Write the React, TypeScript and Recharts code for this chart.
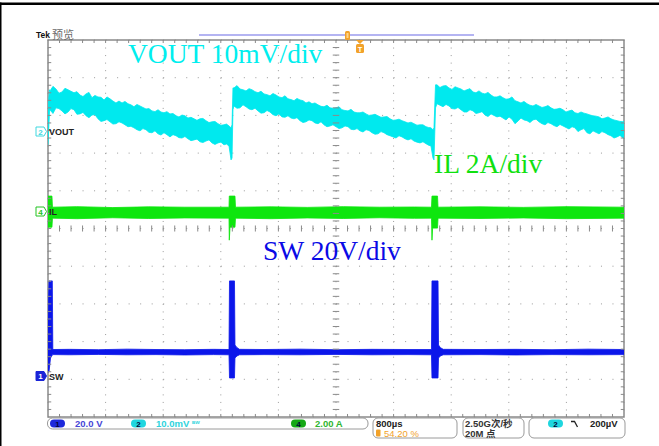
import React from 'react';
import {
  ComposedChart,
  XAxis,
  YAxis,
  CartesianGrid,
  Area,
  ReferenceLine,
  ReferenceArea,
} from 'recharts';

// Horizontal: 800 µs/div, 10 divisions on screen
const timeTicks = [0, 800, 1600, 2400, 3200, 4000, 4800, 5600, 6400, 7200, 8000];
// Graticule rows (divisions from bottom)
const divTicks = [0, 1, 2, 3, 4, 5, 6, 7, 8, 9, 10];

// Channel scale (units per division) and ground-marker position (divisions from bottom)
const CH1_SW = { perDiv: 20, pos: 1.09 }; // V
const CH2_VOUT = { perDiv: 10, pos: 7.59 }; // mV
const CH4_IL = { perDiv: 2, pos: 5.46 }; // A

// Trace envelopes: [time µs, min, max]
// CH2 output ripple, mV (AC view)
const voutEnvelope: [number, number, number][] = [
  [0, -3.7, 6.1], [21, 5.0, 10.9], [28, 5.6, 10.6], [69, 4.6, 11.8], [111, 6.1, 11.1],
  [152, 5.9, 10.0], [194, 5.3, 10.3], [236, 4.5, 11.3], [278, 5.0, 10.9], [319, 5.9, 10.5],
  [361, 5.6, 10.1], [402, 4.4, 10.4], [444, 4.5, 9.5], [486, 4.9, 9.1], [528, 4.0, 9.8],
  [569, 3.5, 10.2], [611, 4.2, 8.8], [652, 4.3, 9.4], [694, 3.2, 9.0], [736, 2.5, 8.9],
  [778, 2.7, 8.2], [819, 3.0, 9.0], [861, 2.4, 8.5], [902, 1.8, 7.9], [944, 1.9, 7.4],
  [986, 2.4, 7.9], [1028, 2.1, 7.4], [1069, 1.6, 7.8], [1111, 1.1, 7.2], [1152, 1.2, 6.9],
  [1194, 0.8, 6.4], [1236, 0.3, 7.0], [1278, 0.0, 6.6], [1319, 0.6, 6.2], [1361, 0.3, 5.8],
  [1402, -0.4, 5.9], [1444, -0.5, 5.3], [1486, 0.0, 5.1], [1528, -0.8, 5.6], [1569, -1.1, 5.0],
  [1611, -0.5, 4.8], [1652, -1.0, 5.1], [1694, -1.6, 4.5], [1736, -1.0, 4.6], [1778, -1.3, 4.0],
  [1819, -1.8, 3.7], [1861, -1.9, 4.2], [1902, -1.5, 4.0], [1944, -2.1, 3.4], [1986, -2.6, 3.6],
  [2028, -2.4, 3.2], [2069, -2.2, 2.8], [2111, -2.9, 3.2], [2152, -3.1, 3.3], [2194, -2.7, 2.7],
  [2236, -2.4, 2.2], [2278, -3.2, 2.4], [2319, -3.6, 2.5], [2361, -3.2, 1.9], [2402, -3.0, 1.5],
  [2444, -3.7, 1.6], [2479, -3.5, 1.8], [2514, -4.0, 1.3], [2542, -7.7, 0.8], [2556, -7.2, 1.6],
  [2569, 5.6, 11.4],
  [2583, 6.6, 11.4], [2625, 6.0, 12.0], [2667, 6.1, 11.1], [2708, 6.9, 10.9], [2750, 6.4, 10.6],
  [2792, 5.8, 11.2], [2833, 5.6, 10.9], [2875, 6.0, 10.4], [2917, 5.3, 10.1], [2958, 4.7, 10.5],
  [3000, 4.8, 9.8], [3042, 5.4, 9.6], [3083, 5.0, 9.3], [3125, 4.3, 9.9], [3167, 4.0, 9.5],
  [3208, 4.5, 9.0], [3250, 3.7, 8.8], [3292, 3.6, 9.3], [3333, 4.0, 8.5], [3375, 3.4, 8.3],
  [3417, 3.2, 8.0], [3458, 3.5, 8.6], [3500, 2.7, 8.2], [3542, 2.2, 8.0], [3583, 2.4, 7.4],
  [3625, 2.9, 7.7], [3667, 2.7, 7.2], [3708, 2.1, 7.4], [3750, 1.9, 6.9], [3792, 2.4, 6.5],
  [3833, 1.6, 6.4], [3875, 1.1, 6.8], [3917, 1.3, 6.1], [3958, 1.6, 6.0], [4000, 1.1, 6.1],
  [4042, 0.6, 6.4], [4083, 0.8, 5.6], [4125, 1.3, 5.4], [4167, 1.1, 5.3], [4208, 0.4, 5.7],
  [4250, 0.3, 5.0], [4292, 0.6, 4.8], [4333, 0.0, 4.8], [4375, -0.3, 5.0], [4417, 0.3, 4.5],
  [4458, 0.1, 4.1], [4500, -0.5, 4.2], [4542, -0.9, 4.4], [4583, -0.8, 4.0], [4625, -0.2, 3.6],
  [4667, -0.5, 3.7], [4708, -1.0, 3.8], [4750, -1.3, 3.2], [4792, -1.6, 2.8], [4833, -1.9, 2.9],
  [4875, -1.3, 3.1], [4917, -1.6, 2.7], [4958, -2.1, 2.4], [5000, -2.4, 2.1], [5042, -2.1, 2.3],
  [5083, -2.7, 1.9], [5125, -3.0, 1.5], [5167, -3.2, 1.6], [5208, -2.9, 1.6], [5250, -3.4, 1.1],
  [5285, -3.8, 0.9], [5319, -4.0, 0.8], [5347, -7.2, 0.3], [5361, -7.7, 0.8], [5382, 6.1, 12.2],
  [5403, 7.2, 12.2], [5444, 6.8, 11.5], [5486, 6.4, 11.9], [5528, 7.0, 12.0], [5569, 6.6, 11.4],
  [5611, 5.9, 11.0], [5653, 5.8, 11.7], [5694, 6.2, 11.4], [5736, 5.6, 11.1], [5778, 5.0, 10.6],
  [5819, 5.0, 10.9], [5861, 5.6, 11.2], [5903, 5.3, 10.3], [5944, 4.6, 10.1], [5986, 4.8, 10.6],
  [6028, 5.1, 10.0], [6069, 4.2, 9.8], [6111, 3.8, 10.2], [6153, 4.5, 9.5], [6194, 4.1, 9.0],
  [6236, 3.7, 9.0], [6278, 3.9, 9.3], [6319, 3.4, 8.8], [6361, 2.9, 8.4], [6403, 3.7, 8.5],
  [6444, 3.1, 9.0], [6486, 1.9, 8.0], [6528, 2.6, 7.7], [6569, 3.4, 7.4], [6611, 2.9, 7.8],
  [6653, 2.7, 7.2], [6694, 2.2, 6.8], [6736, 2.9, 6.6], [6778, 3.1, 7.0], [6819, 2.4, 6.6],
  [6861, 1.9, 6.2], [6903, 1.6, 6.4], [6944, 2.2, 6.7], [6986, 1.9, 6.1], [7028, 1.4, 5.7],
  [7069, 1.1, 5.8], [7111, 1.7, 6.0], [7153, 1.3, 5.6], [7194, 0.9, 5.0], [7236, 0.5, 5.3],
  [7278, 1.1, 5.5], [7319, 0.8, 4.8], [7361, -0.2, 4.6], [7403, 0.3, 5.0], [7444, 0.6, 4.7],
  [7486, -0.5, 4.5], [7528, -0.8, 4.2], [7569, 0.0, 4.0], [7611, -0.4, 3.9], [7653, -0.8, 3.7],
  [7694, -0.2, 3.2], [7736, -0.5, 3.4], [7778, -1.0, 3.7], [7819, -1.3, 3.2], [7861, -1.9, 2.9],
  [7903, -1.6, 2.7], [7944, -1.2, 2.5], [7986, -1.9, 2.4], [8000, -2.0, 2.6],
];

// CH4 inductor current, A
const ilEnvelope: [number, number, number][] = [
  [0, -0.85, 0.8], [55, -0.85, 0.8], [62, -0.37, 0.21],
  [400, -0.4, 0.24], [900, -0.35, 0.19], [1400, -0.39, 0.23], [1900, -0.36, 0.21],
  [2514, -0.37, 0.21], [2518, -1.54, 0.8], [2528, -0.85, 0.8], [2597, -0.85, 0.8],
  [2604, -0.37, 0.21],
  [3100, -0.4, 0.23], [3600, -0.36, 0.2], [4100, -0.39, 0.24], [4600, -0.35, 0.21],
  [5090, -0.38, 0.22],
  [5326, -0.37, 0.21], [5333, -1.54, 0.8], [5342, -0.9, 0.8], [5410, -0.9, 0.8],
  [5417, -0.37, 0.21],
  [6000, -0.39, 0.23], [6600, -0.36, 0.2], [7200, -0.4, 0.24], [8000, -0.37, 0.21],
];

// CH1 switch node, V
const swEnvelope: [number, number, number][] = [
  [0, 2.1, 30.0], [14, 2.1, 50.4], [35, 9.5, 50.4], [60, 11.1, 50.4], [67, 11.3, 14.0],
  [300, 11.2, 14.1], [700, 11.4, 13.9], [1100, 11.2, 14.2], [1500, 11.3, 14.0],
  [1900, 11.1, 13.9], [2300, 11.3, 14.1],
  [2514, 11.2, 14.0], [2521, -1.1, 50.4], [2590, -1.1, 50.4], [2597, 9.5, 16.4],
  [2625, 10.6, 15.0], [2660, 11.2, 14.1],
  [3000, 11.3, 14.0], [3500, 11.2, 14.2], [4000, 11.4, 13.9], [4500, 11.2, 14.1],
  [5000, 11.3, 14.0],
  [5326, 11.2, 14.0], [5333, -1.1, 50.4], [5417, -1.1, 50.4], [5424, 9.5, 16.4],
  [5450, 10.6, 15.0], [5490, 11.2, 14.1],
  [6000, 11.3, 14.0], [6500, 11.1, 14.1], [7000, 11.3, 13.9], [7500, 11.2, 14.2],
  [8000, 11.3, 14.0],
];

const toRows = (env: [number, number, number][]) =>
  env.map(([t, lo, hi]) => ({ t, band: [lo, hi] }));

const domainOf = (ch: { perDiv: number; pos: number }): [number, number] => [
  -ch.pos * ch.perDiv,
  (10 - ch.pos) * ch.perDiv,
];

const COLORS = {
  sw: '#0b16ea',
  vout: '#00e9ee',
  il: '#0ee60e',
  grid: '#9a9a9a',
  frame: '#8a8a8a',
};

// Graticule minor marks: 5 per division
const minorT = Array.from({ length: 49 }, (_, i) => (i + 1) * 160);
const minorD = Array.from({ length: 49 }, (_, i) => (i + 1) * 0.2);
const TL = 45; // mark length along time (≈3px)
const DL = 0.08; // mark length along divisions (≈3px)

const graticuleMarks = [
  ...minorT.map((t) => [{ x: t, y: 10 }, { x: t, y: 10 - DL }]),
  ...minorT.map((t) => [{ x: t, y: 0 }, { x: t, y: DL }]),
  ...minorT.map((t) => [{ x: t, y: 5 - DL }, { x: t, y: 5 + DL }]),
  ...minorD.map((d) => [{ x: 0, y: d }, { x: TL, y: d }]),
  ...minorD.map((d) => [{ x: 8000 - TL, y: d }, { x: 8000, y: d }]),
  ...minorD.map((d) => [{ x: 4000 - TL, y: d }, { x: 4000 + TL, y: d }]),
];

const sans = 'Liberation Sans, Arial, sans-serif';
const sansCjk = 'Liberation Sans, Noto Sans CJK SC, sans-serif';
const serif = 'Liberation Serif, Times New Roman, serif';
const cjk = 'Noto Sans CJK SC, sans-serif';

function ChannelTag({ x, y, n, color, filled, name }: any) {
  return (
    <g>
      <path
        d={`M${x} ${y - 4.5} h8 l2.5 4.5 l-2.5 4.5 h-8 z`}
        fill={filled ? color : '#ffffff'}
        stroke={color}
        strokeWidth={1}
      />
      <text x={x + 4.5} y={y + 3} fontSize={8} fontWeight="bold" fontFamily={sans}
        textAnchor="middle" fill={filled ? '#ffffff' : color}>{n}</text>
      <text x={x + 13} y={y + 3.5} fontSize={9} fontWeight="bold" fontFamily={sans}
        fill="#222">{name}</text>
    </g>
  );
}

function Pill({ x, y, n, color }: any) {
  return (
    <g>
      <rect x={x} y={y} width={15} height={8} rx={4} fill={color} />
      <text x={x + 7.5} y={y + 7} fontSize={8} fontWeight="bold" fontFamily={sans}
        textAnchor="middle" fill="#06063a">{n}</text>
    </g>
  );
}

function Overlay() {
  return (
    <svg width={659} height={446} style={{ position: 'absolute', left: 0, top: 0, pointerEvents: 'none' }}>
      {/* outer frame */}
      <rect x={0} y={2.5} width={659} height={2.5} fill="#000" />
      <rect x={0} y={2.5} width={1.5} height={444} fill="#000" />

      {/* header */}
      <text x={36} y={38} fontSize={8.5} fontWeight="bold" fontFamily={sans} fill="#111">Tek</text>
      <text x={52} y={38.5} fontSize={11} fontFamily={cjk} fill="#6a6a6a">预览</text>
      <rect x={199} y={34} width={275} height={2} fill="#b4b4f2" />
      <rect x={345} y={31} width={5} height={9} rx={1.5} fill="#f2a22a" />
      <rect x={346.5} y={33} width={2} height={5} fill="#ffd58a" />
      <path d="M356 40 h8 l-4 4 z" fill="#f2a22a" />
      <rect x={356} y={44} width={8} height={9} rx={1.5} fill="#f2a22a" />
      <text x={360} y={51.5} fontSize={7.5} fontWeight="bold" fontFamily={sans}
        textAnchor="middle" fill="#ffffff">T</text>

      {/* scale annotations */}
      <text x={128} y={63} fontSize={27.5} fontFamily={serif} fill="#00eeee">VOUT 10mV/div</text>
      <text x={434} y={173} fontSize={27.5} fontFamily={serif} fill="#10e010">IL 2A/div</text>
      <text x={263} y={260} fontSize={27.5} fontFamily={serif} fill="#0a0ae6">SW 20V/div</text>

      {/* ground markers */}
      <ChannelTag x={36} y={131.5} n="2" color="#3fd8e0" name="VOUT" />
      <ChannelTag x={36} y={211.5} n="4" color="#22c422" name="IL" />
      <ChannelTag x={36} y={376} n="1" color="#1a24d8" filled name="SW" />

      {/* status bar */}
      <rect x={47.5} y={418} width={320.5} height={11} rx={5} fill="#fff" stroke="#9a9a9a" strokeWidth={1} />
      <Pill x={50} y={419.5} n="1" color="#1d29dc" />
      <text x={75} y={427} fontSize={9.5} fontWeight="bold" fontFamily={sans} fill="#4646d6">20.0 V</text>
      <Pill x={131} y={419.5} n="2" color="#1fd6df" />
      <text x={156} y={427} fontSize={9.5} fontWeight="bold" fontFamily={sans} fill="#2ed3dc">10.0mV</text>
      <text x={192} y={426} fontSize={7} fontWeight="bold" fontFamily={sans} fill="#2ed3dc">ᴮᵂ</text>
      <Pill x={291} y={419.5} n="4" color="#15a815" />
      <text x={315} y={427} fontSize={9.5} fontWeight="bold" fontFamily={sans} fill="#2fb52f">2.00 A</text>

      <rect x={373} y={418} width={84} height={20} rx={5} fill="#fff" stroke="#9a9a9a" strokeWidth={1} />
      <text x={376} y={426.5} fontSize={9.5} fontWeight="bold" fontFamily={sans} fill="#222">800µs</text>
      <rect x={376} y={429.5} width={4.5} height={7} rx={1} fill="#f2a22a" />
      <text x={384} y={436.5} fontSize={9.5} fontFamily={sans} fill="#f2a22a">54.20 %</text>

      <rect x={463} y={418} width={61} height={20} rx={5} fill="#fff" stroke="#9a9a9a" strokeWidth={1} />
      <text x={465} y={426.5} fontSize={9.5} fontWeight="bold" fontFamily={sansCjk} fill="#333">2.50G次/秒</text>
      <text x={465} y={436.5} fontSize={9.5} fontWeight="bold" fontFamily={sansCjk} fill="#333">20M 点</text>

      <rect x={529} y={418} width={96} height={20} rx={5} fill="#fff" stroke="#9a9a9a" strokeWidth={1} />
      <Pill x={548} y={419.5} n="2" color="#1fd6df" />
      <path d="M571 421.5 h3.5 l3 5.5" fill="none" stroke="#222" strokeWidth={1.3} />
      <text x={590} y={427} fontSize={9.5} fontWeight="bold" fontFamily={sans} fill="#222">200µV</text>
    </svg>
  );
}

export default function App() {
  const vout = toRows(voutEnvelope);
  const il = toRows(ilEnvelope);
  const sw = toRows(swEnvelope);

  return (
    <div style={{ position: 'absolute', left: 0, top: 0, width: 659, height: 446, background: '#fff' }}>
      <ComposedChart width={659} height={446} margin={{ top: 40, right: 35, bottom: 29, left: 48 }}>
        <XAxis type="number" dataKey="t" domain={[0, 8000]} ticks={timeTicks} hide allowDataOverflow />
        <YAxis yAxisId="div" type="number" domain={[0, 10]} ticks={divTicks} hide allowDataOverflow />
        <YAxis yAxisId="sw" type="number" domain={domainOf(CH1_SW)} hide allowDataOverflow />
        <YAxis yAxisId="vout" type="number" domain={domainOf(CH2_VOUT)} hide allowDataOverflow />
        <YAxis yAxisId="il" type="number" domain={domainOf(CH4_IL)} hide allowDataOverflow />

        <CartesianGrid yAxisId="div" vertical={false} stroke={COLORS.grid} strokeDasharray="1 10.52" />
        <CartesianGrid yAxisId="div" horizontal={false} stroke={COLORS.grid} strokeDasharray="1 6.54" />

        {graticuleMarks.map((seg, i) => (
          <ReferenceLine key={i} yAxisId="div" segment={seg} stroke={COLORS.frame} strokeWidth={1} />
        ))}
        <ReferenceArea yAxisId="div" x1={0} x2={8000} y1={0} y2={10} fill="none" stroke={COLORS.frame} strokeWidth={1.5} />

        <Area data={vout} yAxisId="vout" dataKey="band" type="linear" fill={COLORS.vout} fillOpacity={1}
          stroke={COLORS.vout} strokeWidth={0.8} isAnimationActive={false} />
        <Area data={il} yAxisId="il" dataKey="band" type="linear" fill={COLORS.il} fillOpacity={1}
          stroke={COLORS.il} strokeWidth={0.8} isAnimationActive={false} />
        <Area data={sw} yAxisId="sw" dataKey="band" type="linear" fill={COLORS.sw} fillOpacity={1}
          stroke={COLORS.sw} strokeWidth={0.8} isAnimationActive={false} />
      </ComposedChart>
      <Overlay />
    </div>
  );
}
